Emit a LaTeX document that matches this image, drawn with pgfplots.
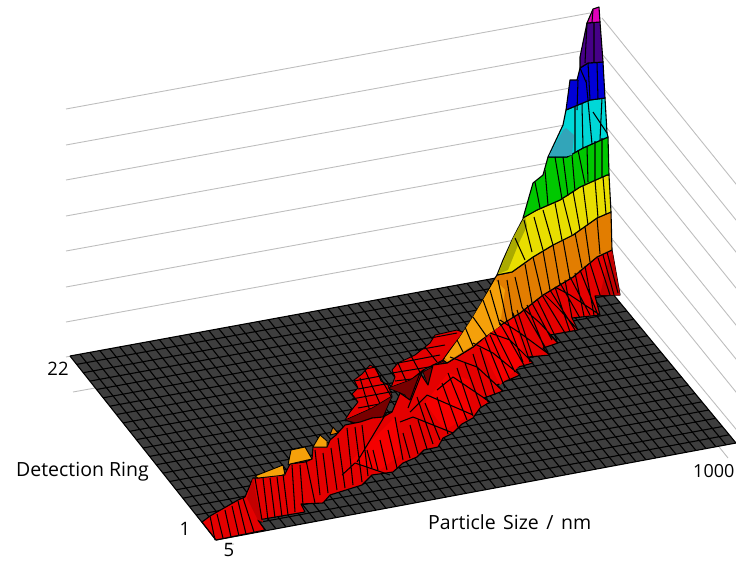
\documentclass[border=0pt]{standalone}
\usepackage{pgfplots}
\pgfplotsset{compat=1.18}
\usepackage{fontspec}
\setmainfont{Open Sans}
\definecolor{floorc}{RGB}{62,62,62}
\definecolor{wall}{RGB}{190,190,190}
\definecolor{rd}{RGB}{228,0,0}
\definecolor{rdb}{RGB}{245,0,0}
\definecolor{rdm}{RGB}{195,0,0}
\definecolor{rdd}{RGB}{120,0,0}
\definecolor{org}{RGB}{226,125,0}
\definecolor{orgl}{RGB}{245,160,10}
\definecolor{yel}{RGB}{232,222,0}
\definecolor{yeld}{RGB}{170,170,0}
\definecolor{grn}{RGB}{0,200,0}
\definecolor{cya}{RGB}{0,215,215}
\definecolor{cyad}{RGB}{50,165,185}
\definecolor{blu}{RGB}{0,0,215}
\definecolor{pur}{RGB}{70,0,135}
\definecolor{mag}{RGB}{225,0,185}
\begin{document}
\begin{tikzpicture}
\path[use as bounding box,clip] (0,0) rectangle (736pt,560pt);
\begin{axis}[
  scale only axis,width=736pt,height=560pt,
  xmin=0,xmax=736,ymin=0,ymax=560,y dir=reverse,
  hide axis,unbounded coords=jump,
  every axis plot/.append style={mark=none,line join=round}]
% wall grid lines
\addplot[wall,line width=0.9pt] coordinates {
(66,109)(590,13) (nan,nan) (66,145)(592,49) (nan,nan) (66,180)(592,84) (nan,nan)
(66,216)(592,120) (nan,nan) (66,251)(592,155) (nan,nan) (66,287)(592,191) (nan,nan)
(66,322)(592,226) (nan,nan) (66,357)(592,261) (nan,nan) (73,392)(592,298) (nan,nan)
(602,18)(740,189) (nan,nan) (603,55)(740,225) (nan,nan) (605,90)(740,257) (nan,nan)
(607,128)(740,293) (nan,nan) (609,168)(740,330) (nan,nan) (611,205)(740,364) (nan,nan)
(613,240)(740,397) (nan,nan) (615,283)(740,434) (nan,nan) (617,320)(728,458) (nan,nan)
(225,545)(234,544)};
% floor
\addplot[fill=floorc,draw=none] coordinates {(70,356)(586,261.5)(736,443)(216,540)} -- cycle;
% rows
\addplot[black,line width=1.1pt] coordinates {
(70,356)(586,261.5) (nan,nan)(76.6,364.4)(592.8,269.8) (nan,nan)(83.3,372.7)(599.6,278) (nan,nan)
(89.9,381.1)(606.5,286.3) (nan,nan)(96.5,389.5)(613.3,294.5) (nan,nan)(103.2,397.8)(620.1,302.8) (nan,nan)
(109.8,406.2)(626.9,311) (nan,nan)(116.5,414.5)(633.7,319.3) (nan,nan)(123.1,422.9)(640.5,327.5) (nan,nan)
(129.7,431.3)(647.4,335.8) (nan,nan)(136.4,439.6)(654.2,344) (nan,nan)(143,448)(661,352.3) (nan,nan)
(149.6,456.4)(667.8,360.5) (nan,nan)(156.3,464.7)(674.6,368.8) (nan,nan)(162.9,473.1)(681.5,377) (nan,nan)
(169.5,481.5)(688.3,385.3) (nan,nan)(176.2,489.8)(695.1,393.5) (nan,nan)(182.8,498.2)(701.9,401.8) (nan,nan)
(189.5,506.5)(708.7,410) (nan,nan)(196.1,514.9)(715.5,418.3) (nan,nan)(202.7,523.3)(722.4,426.5) (nan,nan)
(209.4,531.6)(729.2,434.8) (nan,nan)(216,540)(736,443)};
% columns
\addplot[black,line width=1.1pt] coordinates {
(70,356)(216,540) (nan,nan)(79.9,354.2)(226,538.1) (nan,nan)(89.8,352.4)(236,536.3) (nan,nan)(99.8,350.5)(246,534.4) (nan,nan)
(109.7,348.7)(256,532.5) (nan,nan)(119.6,346.9)(266,530.7) (nan,nan)(129.5,345.1)(276,528.8) (nan,nan)(139.5,343.3)(286,526.9) (nan,nan)
(149.4,341.5)(296,525.1) (nan,nan)(159.3,339.6)(306,523.2) (nan,nan)(169.2,337.8)(316,521.4) (nan,nan)(179.2,336)(326,519.5) (nan,nan)
(189.1,334.2)(336,517.6) (nan,nan)(199,332.4)(346,515.8) (nan,nan)(208.9,330.6)(356,513.9) (nan,nan)(218.8,328.7)(366,512) (nan,nan)
(228.8,326.9)(376,510.2) (nan,nan)(238.7,325.1)(386,508.3) (nan,nan)(248.6,323.3)(396,506.4) (nan,nan)(258.5,321.5)(406,504.6) (nan,nan)
(268.5,319.7)(416,502.7) (nan,nan)(278.4,317.8)(426,500.8) (nan,nan)(288.3,316)(436,499) (nan,nan)(298.2,314.2)(446,497.1) (nan,nan)
(308.2,312.4)(456,495.2) (nan,nan)(318.1,310.6)(466,493.4) (nan,nan)(328,308.8)(476,491.5) (nan,nan)(337.9,306.9)(486,489.6) (nan,nan)
(347.8,305.1)(496,487.8) (nan,nan)(357.8,303.3)(506,485.9) (nan,nan)(367.7,301.5)(516,484.1) (nan,nan)(377.6,299.7)(526,482.2) (nan,nan)
(387.5,297.9)(536,480.3) (nan,nan)(397.5,296)(546,478.5) (nan,nan)(407.4,294.2)(556,476.6) (nan,nan)(417.3,292.4)(566,474.7) (nan,nan)
(427.2,290.6)(576,472.9) (nan,nan)(437.2,288.8)(586,471) (nan,nan)(447.1,287)(596,469.1) (nan,nan)(457,285.1)(606,467.3) (nan,nan)
(466.9,283.3)(616,465.4) (nan,nan)(476.8,281.5)(626,463.5) (nan,nan)(486.8,279.7)(636,461.7) (nan,nan)(496.7,277.9)(646,459.8) (nan,nan)
(506.6,276.1)(656,457.9) (nan,nan)(516.5,274.2)(666,456.1) (nan,nan)(526.5,272.4)(676,454.2) (nan,nan)(536.4,270.6)(686,452.3) (nan,nan)
(546.3,268.8)(696,450.5) (nan,nan)(556.2,267)(706,448.6) (nan,nan)(566.2,265.2)(716,446.8) (nan,nan)(576.1,263.3)(726,444.9) (nan,nan)
(586,261.5)(736,443)};
% low back lobes
\addplot[fill=rd,draw=black,line width=0.9pt] coordinates {(370,365)(376,368)(381,381)(388,385)(392,396)(385,412)(360,425)(345,420)(350,412)(358,402)(352,394)(358,388)(354,380)(362,374)} -- cycle;
\addplot[fill=rd,draw=black,line width=0.9pt] coordinates {(392,370)(398,363)(415,355)(430,343)(435,335)(457,330)(470,335)(443,360)(423,370)(407,383)(390,390)(395,377)} -- cycle;
\addplot[black,line width=1pt] coordinates {
(356,370.6)(376,367) (nan,nan)(354,381)(381,376) (nan,nan)(358,389)(388,383.5) (nan,nan)(352,399)(392,391.6) (nan,nan)
(358,408)(390,402) (nan,nan)(345,421)(385,413.6) (nan,nan)(365,370)(385,415) (nan,nan)(375,368)(392,398) (nan,nan)(360,378)(372,418) (nan,nan)
(432,337.7)(457,333) (nan,nan)(415,350.4)(445,345) (nan,nan)(398,363)(440,355) (nan,nan)(392,373)(435,366) (nan,nan)(395,381)(420,378) (nan,nan)
(410,354)(422,376) (nan,nan)(425,347)(437,362) (nan,nan)(398,363)(407,383)};
% dark wedges behind the front
\addplot[fill=rdd,draw=black,line width=0.6pt] coordinates {(388,388)(410,380)(422,372)(412,408)(405,395)(398,392)} -- cycle;
\addplot[fill=rdd,draw=black,line width=0.6pt] coordinates {(345,420)(372,408)(392,396)(383,417)(372,418)(360,424)} -- cycle;
\addplot[fill=rdd,draw=black,line width=0.6pt] coordinates {(423,372)(445,360)(440,372)(428,385)} -- cycle;
% red body
\addplot[fill=rd,draw=black,line width=1.1pt] coordinates {
(202,522)(216,540)(265,530)(258,520)(305,512)(301,504)(323,503)(330,495)(362,485)(372,475)(393,472)(403,463)(417,457)(424,450)(438,447)(443,438)(453,433)(462,424)(473,418)(480,408)(490,402)(484,398)(503,391)(497,385)(520,375)(515,368)(533,363)(528,357)(550,355)(543,348)(558,343)(550,335)(578,330)(572,318)(600,315)(595,296)(620,295)
(612,250)(597,257)(573,277)(543,295)(520,313)(493,330)(473,347)(447,363)(433,365)(428,385)(420,373)(410,400)(400,393)(392,412)(383,417)(372,418)(360,422)(345,425)(336,435)(330,440)(327,447)(313,447)(312,459)(305,462)(290,464)(285,474)(258,478)(253,478)(245,497)(238,500)(210,516)} -- cycle;
% darker red faces
\addplot[fill=rdm,draw=none] coordinates {(247,498)(253,478)(257,500)(263,522)(258,520)} -- cycle;
\addplot[fill=rdm,draw=none] coordinates {(612,250)(620,295)(600,295)(606,270)} -- cycle;
\addplot[fill=rdb,draw=none] coordinates {(350,462)(372,440)(395,417)(400,455)(380,470)} -- cycle;
\addplot[fill=rdb,draw=none] coordinates {(425,403)(448,373)(470,380)(470,415)(445,430)} -- cycle;
\addplot[fill=rdb,draw=none] coordinates {(480,345)(513,315)(525,360)(500,385)} -- cycle;
% orange caps
\addplot[fill=orgl,draw=black,line width=0.9pt] coordinates {(255,476)(283,465)(285,475)(258,478)} -- cycle;
\addplot[fill=orgl,draw=black,line width=0.9pt] coordinates {(288,465)(291,450)(305,447)(312,459)(290,464)} -- cycle;
\addplot[fill=orgl,draw=black,line width=0.9pt] coordinates {(313,447)(320,435)(327,441)(327,447)} -- cycle;
\addplot[fill=org,draw=black,line width=0.9pt] coordinates {(330,435)(333,427)(338,433)} -- cycle;
% colour bands
\addplot[fill=org,draw=black,line width=1.1pt] coordinates {(443,360)(450,350)(460,337)(473,317)(483,300)(495,278)(497,275)(512,272)(533,257)(553,245)(573,235)(597,218)(611,212)(612,250)(597,257)(573,277)(543,295)(520,313)(493,330)(473,347)(447,363)} -- cycle;
\addplot[fill=orgl,draw=none] coordinates {(445,358)(460,337)(473,317)(483,300)(495,280)(505,290)(500,326)(473,345)(448,361)} -- cycle;
\addplot[fill=yel,draw=black,line width=1.1pt] coordinates {(497,275)(503,260)(513,238)(525,215)(537,210)(560,200)(580,187)(607,175)(609,175)(611,212)(597,218)(573,235)(553,245)(533,257)(512,272)} -- cycle;
\addplot[fill=yeld,draw=none] coordinates {(498,274)(513,238)(525,216)(527,226)(518,245)(508,270)} -- cycle;
\addplot[fill=grn,draw=black,line width=1.1pt] coordinates {(523,218)(533,183)(543,175)(548,157)(567,157)(583,148)(608,137)(609,175)(607,175)(580,187)(560,200)(537,210)} -- cycle;
\addplot[fill=cya,draw=black,line width=1.1pt] coordinates {(548,157)(563,125)(566,110)(590,100)(605,98)(607,133)(608,137)(583,148)(567,157)} -- cycle;
\addplot[fill=cyad,draw=none] coordinates {(549,156)(563,130)(566,128)(574,135)(572,155)(567,156)} -- cycle;
\addplot[fill=blu,draw=black,line width=1.1pt] coordinates {(566,110)(570,80)(577,80)(580,68)(588,63)(603,62)(605,98)(590,100)} -- cycle;
\addplot[fill=pur,draw=black,line width=1.1pt] coordinates {(580,68)(580,57)(587,23)(600,22)(603,62)(588,63)} -- cycle;
\addplot[fill=mag,draw=black,line width=1.1pt] coordinates {(587,23)(593,9)(599,7)(600,22)} -- cycle;
% stripes
\addplot[black,line width=1.05pt] coordinates {
(593,10)(592,22) (nan,nan)(594,22)(594,62) (nan,nan)(587,23)(585,63) (nan,nan)
(578,80)(577,110) (nan,nan)(586,80)(588,100) (nan,nan)(597,63)(598,99) (nan,nan)(588,63)(590,100) (nan,nan)(580,68)(586,82) (nan,nan)
(575,107)(575,152) (nan,nan)(582,104)(583,148) (nan,nan)(588,101)(592,144) (nan,nan)(593,112)(607,133) (nan,nan)(602,98)(600,140) (nan,nan)
(555,157)(562,199) (nan,nan)(563,157)(568,196) (nan,nan)(572,155)(575,191) (nan,nan)(578,150)(585,184) (nan,nan)(587,147)(588,182) (nan,nan)(595,141)(595,180) (nan,nan)(602,138)(602,177) (nan,nan)(545,170)(548,205) (nan,nan)(535,182)(540,208) (nan,nan)
(534,217)(543,250) (nan,nan)(543,210)(553,245) (nan,nan)(555,203)(562,240) (nan,nan)(563,199)(572,235) (nan,nan)(573,191)(580,230) (nan,nan)(583,186)(588,225) (nan,nan)(595,180)(598,218) (nan,nan)(603,177)(606,214) (nan,nan)(515,238)(525,260) (nan,nan)(524,220)(532,252) (nan,nan)
(515,277)(522,307) (nan,nan)(525,264)(532,303) (nan,nan)(533,257)(542,295) (nan,nan)(543,251)(550,290) (nan,nan)(553,245)(560,285) (nan,nan)(563,240)(570,279) (nan,nan)(575,233)(582,268) (nan,nan)(585,227)(590,262) (nan,nan)(597,218)(600,254) (nan,nan)(507,280)(513,317) (nan,nan)(498,280)(507,322) (nan,nan)(490,290)(500,325) (nan,nan)(483,300)(495,333) (nan,nan)(473,317)(487,337) (nan,nan)(465,327)(473,346) (nan,nan)(457,340)(463,352) (nan,nan)
(607,252)(618,293) (nan,nan)(598,258)(610,295) (nan,nan)(590,263)(600,295) (nan,nan)(580,270)(598,315) (nan,nan)(570,277)(590,315) (nan,nan)(560,283)(580,318) (nan,nan)(550,290)(575,330) (nan,nan)(542,295)(565,333) (nan,nan)(532,303)(552,340) (nan,nan)(522,307)(548,352) (nan,nan)(513,313)(530,362) (nan,nan)(500,323)(525,367) (nan,nan)(495,332)(515,372) (nan,nan)(485,338)(505,388) (nan,nan)
(603,255)(614,295) (nan,nan)(585,266)(594,315) (nan,nan)(575,273)(584,316) (nan,nan)(565,280)(572,318) (nan,nan)(555,287)(570,332) (nan,nan)(537,299)(557,340) (nan,nan)(527,305)(544,347) (nan,nan)(517,310)(533,358) (nan,nan)(507,320)(523,362) (nan,nan)(490,335)(510,380) (nan,nan)
(210,516)(215,540) (nan,nan)(217,514)(223,538) (nan,nan)(225,510)(231,537) (nan,nan)(232,506)(239,536) (nan,nan)(238,501)(246,534) (nan,nan)(243,498)(254,532) (nan,nan)
(255,478)(262,520) (nan,nan)(263,478)(268,520) (nan,nan)(270,478)(275,518) (nan,nan)(277,477)(282,517) (nan,nan)(283,474)(288,515) (nan,nan)(292,465)(295,512) (nan,nan)(300,465)(303,505) (nan,nan)(306,460)(315,503) (nan,nan)
(315,450)(320,495) (nan,nan)(323,453)(328,493) (nan,nan)(331,448)(337,490) (nan,nan)(338,438)(345,488) (nan,nan)(347,428)(353,485) (nan,nan)(355,427)(362,482) (nan,nan)(362,425)(368,476) (nan,nan)
(367,450)(372,468) (nan,nan)(373,450)(378,470) (nan,nan)(380,440)(387,470) (nan,nan)(388,430)(397,468) (nan,nan)(395,417)(403,460) (nan,nan)(403,433)(410,458) (nan,nan)(410,425)(418,454) (nan,nan)(418,420)(427,449) (nan,nan)(417,397)(433,444) (nan,nan)(425,403)(440,440) (nan,nan)(437,397)(448,434) (nan,nan)(442,383)(458,427) (nan,nan)(448,373)(467,420) (nan,nan)(457,368)(473,416) (nan,nan)(465,363)(481,407) (nan,nan)(473,354)(488,402) (nan,nan)(480,348)(495,395) (nan,nan)
(387,412)(357,462) (nan,nan)(423,370)(408,408) (nan,nan)
(342,475)(355,463)(390,475) (nan,nan)(400,422)(413,417)(453,433) (nan,nan)(410,412)(427,395)(473,415) (nan,nan)(437,390)(453,377)(490,402) (nan,nan)
(550,355)(520,333)(500,320) (nan,nan)(600,315)(570,295)(555,287) (nan,nan)(578,330)(560,310)(545,295) (nan,nan)(558,343)(540,323)(525,310) (nan,nan)(520,375)(493,353)(473,343) (nan,nan)(503,391)(477,367)(450,357) (nan,nan)(533,363)(510,340)(490,333)};
% labels
\node[anchor=mid,font=\fontsize{18.5}{20}\selectfont] at (axis cs:58,373) {22};
\node[font=\fontsize{18.5}{20}\selectfont] at (axis cs:185,529) {1};
\node[font=\fontsize{18.5}{20}\selectfont] at (axis cs:229,549.5) {5};
\node[anchor=west,inner sep=0pt,font=\fontsize{18}{20}\selectfont] at (axis cs:693,471) {1000};
\node[anchor=west,inner sep=0pt,font=\fontsize{19.5}{20}\selectfont] at (axis cs:16,472) {Detection Ring};
\node[anchor=west,inner sep=0pt,font=\fontsize{19.5}{20}\selectfont] at (axis cs:428,522) {\spaceskip=7.5pt Particle Size / nm};
\end{axis}
\end{tikzpicture}
\end{document}
